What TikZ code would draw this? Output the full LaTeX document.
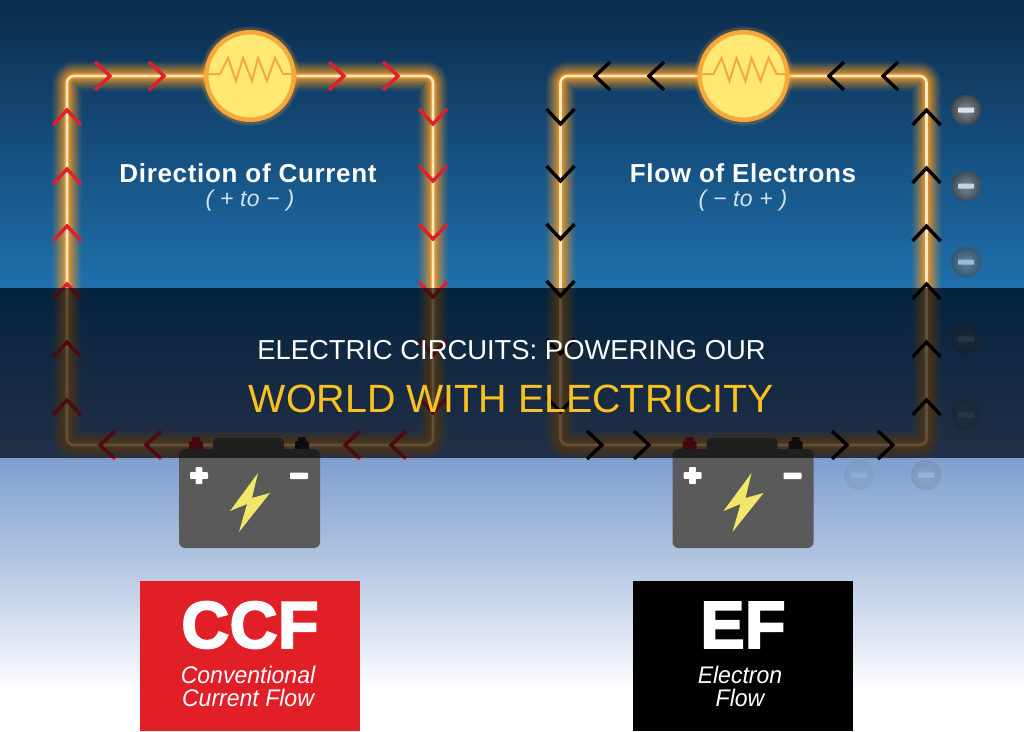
\documentclass[tikz,border=0pt]{standalone}
\usepackage{fontspec}
\setmainfont{Liberation Sans}
\newfontfamily\heavyfont[FakeBold=3.2,LetterSpace=1]{Liberation Sans Bold}
\newfontfamily\narrowit[FakeStretch=0.96]{Liberation Sans Italic}
\usetikzlibrary{calc}
\definecolor{skyA}{HTML}{0B2B4C}
\definecolor{skyB}{HTML}{1F70AC}
\definecolor{skyC}{HTML}{0F66B4}
\definecolor{skyD}{HTML}{6488CC}
\definecolor{skyE}{HTML}{7F9FD0}
\definecolor{skyF}{HTML}{B4C7E3}
\definecolor{skyG}{HTML}{DFE7F4}
\definecolor{wirecore}{HTML}{FFE9C4}
\definecolor{wireglow}{HTML}{F59A24}
\definecolor{arrowred}{HTML}{DF1F2D}
\definecolor{bulbfill}{HTML}{FFE873}
\definecolor{bulbrim}{HTML}{F6A93B}
\definecolor{batgrey}{HTML}{5A5A5A}
\definecolor{boltyellow}{HTML}{F2E769}
\definecolor{titleyellow}{HTML}{FBC21F}
\definecolor{subtitle}{HTML}{CFE3F2}
\definecolor{ccfred}{HTML}{E01F26}
\tikzset{
  x=1pt,y=-1pt,
  chevron/.style={line width=3.4pt,line cap=butt,line join=miter},
  heading/.style={font=\fontsize{26}{26}\selectfont\bfseries\addfontfeature{LetterSpace=2.6},text=white,inner sep=0},
  subheading/.style={font=\fontsize{23}{23}\selectfont\itshape\addfontfeature{LetterSpace=1.5},text=subtitle,inner sep=0},
  bulbnode/.style={circle,draw=bulbrim,fill=bulbfill,line width=4.5pt,minimum size=87.5pt,inner sep=0},
  electron/.style={circle,minimum size=30pt,inner sep=0},
  badge/.style={minimum width=220pt,minimum height=150pt,inner sep=0},
  badgetitle/.style={text=white,font=\fontsize{66}{66}\heavyfont,inner sep=0},
  badgetext/.style={text=white,font=\fontsize{24}{23}\narrowit,align=center,inner sep=0},
}
% a circuit: wire with glow, bulb, battery; #1 = x offset
\newcommand{\circuit}[2]{%
  \begin{scope}[xshift=#1pt]
    \coordinate (#2tl) at (67,76);
    \coordinate (#2tr) at (433,76);
    \coordinate (#2br) at (433,445);
    \coordinate (#2bl) at (67,445);
    \foreach \w/\o in {30/.06,27/.08,24/.10,21/.12,18/.14,15/.16,12/.2,9/.3,6/.5}{
      \draw[wireglow,line width=\w pt,opacity=\o,rounded corners=8pt]
        (#2tl) -- (#2tr) -- (#2br) -- (#2bl) -- cycle;
    }
    \draw[wirecore,line width=2.6pt,rounded corners=7pt]
      (#2tl) -- (#2tr) -- (#2br) -- (#2bl) -- cycle;
    \foreach \w/\o in {100/.1,97/.2}{
      \fill[wireglow,opacity=\o] (250,76) circle ({\w/2});
    }
    \node[bulbnode] (#2bulb) at (250,76) {};
    \draw[bulbrim,line width=2pt,line join=miter]
      (208,74) -- (220,74) -- (228,58) -- (236,81) -- (243,58) -- (252,81)
      -- (258,58) -- (267,81) -- (275,58) -- (283,74) -- (292,74);
    % terminals and battery case
    \fill[batgrey,rounded corners=4pt] (213,438) rectangle (284,455);
    \fill[arrowred!85!black,rounded corners=1pt] (192,437) rectangle (200,443);
    \fill[arrowred!85!black,rounded corners=2pt] (189,441) rectangle (203,452);
    \fill[black!85,rounded corners=1pt] (298,437) rectangle (306,443);
    \fill[black!85,rounded corners=2pt] (295,441) rectangle (309,452);
    \fill[batgrey,rounded corners=6pt] (179,449) rectangle (320,548);
    \fill[white,rounded corners=.8pt] (195.7,467) rectangle (202.3,484);
    \fill[white,rounded corners=.8pt] (190,472.2) rectangle (208,478.8);
    \fill[white,rounded corners=.8pt] (290,472.5) rectangle (308,479);
    \fill[boltyellow] (258,473) -- (230,511) -- (247,504) -- (239,532)
      -- (270,493) -- (252,498) -- cycle;
  \end{scope}}
% open arrowheads, pointing sideways and up or down; the tip sits at the given spot
\newcommand{\chev}[5]{\draw[chevron,#1] (#2+#4,#3-#5) -- (#2+0.12*#4,#3) -- (#2+#4,#3+#5);}
\newcommand{\chevv}[5]{\draw[chevron,#1] (#2-#5,#3+#4) -- (#2,#3+0.12*#4) -- (#2+#5,#3+#4);}
\begin{document}
\begin{tikzpicture}
\useasboundingbox (0,0) rectangle (1024,731);
% sky
\shade[top color=skyA,bottom color=skyB] (0,0) rectangle (1024,288.5);
\shade[top color=skyC,bottom color=skyD] (0,288) rectangle (1024,458.5);
\shade[top color=skyE,bottom color=skyF] (0,458) rectangle (1024,565);
\shade[top color=skyF,bottom color=skyG] (0,564.5) rectangle (1024,640);
\shade[top color=skyG,bottom color=white] (0,639.5) rectangle (1024,690);
\fill[white] (0,689.5) rectangle (1024,731);

\circuit{0}{a}
\circuit{493.5}{b}

% electrons beside the right circuit
\foreach \n/\ex/\ey/\op in {1/966/110/.85,2/966/186/.75,3/966/262/.55,4/966/339/.32,5/966/415/.24,6/859/475/.08,7/926/475/.14}{
  \begin{scope}[opacity=\op,transparency group]
    \node[electron,inner color=black!38,outer color=black!72] (e\n) at (\ex,\ey) {};
    \fill[white,rounded corners=.5pt] ($(e\n)+(-8,-2.5)$) rectangle ($(e\n)+(8,2.5)$);
  \end{scope}
}

% conventional current arrowheads
\foreach \xx in {112,166,346,400}{\chev{arrowred}{\xx}{76}{-17}{14}}
\foreach \yy in {108,167,224,282,340,398}{\chevv{arrowred}{67}{\yy}{17}{14}}
\foreach \yy in {126,183,241,299,357,415}{\chevv{arrowred}{433}{\yy}{-17}{14}}
\foreach \xx in {98,144,343,389}{\chev{arrowred}{\xx}{445}{17}{14}}
% electron flow arrowheads
\foreach \xx in {593,647,827,881}{\chev{black}{\xx}{76}{17}{14}}
\foreach \yy in {108,166,224,282,340,398}{\chevv{black}{926.5}{\yy}{17}{14}}
\foreach \yy in {126,183,241,298,356,414}{\chevv{black}{560.5}{\yy}{-17}{14}}
\foreach \xx in {604,651,849,895}{\chev{black}{\xx}{445}{-17}{14}}

% circuit headings
\node[heading] (h1) at (248,173) {Direction of Current};
\node[subheading] (s1) at (250,201) {( + to − )};
\node[heading] (h2) at (743,173) {Flow of Electrons};
\node[subheading] (s2) at (743,201) {( − to + )};

% badges
\node[badge,fill=ccfred,anchor=north west] (ccf) at (140,581) {};
\node[badge,fill=black,anchor=north west] (ef) at (633,581) {};
\node[badgetitle] (ccft) at (250,625) {CCF};
\node[badgetitle] (eft) at (743,625) {EF};
\node[badgetext] (ccfl) at (248,686) {Conventional\\Current Flow};
\node[badgetext] (efl) at (740,686) {Electron\\Flow};

% title band
\fill[black,opacity=.65] (0,288) rectangle (1024,458);
\node[text=white,font=\fontsize{27.4}{27.4}\selectfont,inner sep=0] (t1) at (511.5,350) {ELECTRIC CIRCUITS: POWERING OUR};
\node[text=titleyellow,font=\fontsize{39.4}{39.4}\selectfont,inner sep=0] (t2) at (511.5,399) {WORLD WITH ELECTRICITY};
\end{tikzpicture}
\end{document}
